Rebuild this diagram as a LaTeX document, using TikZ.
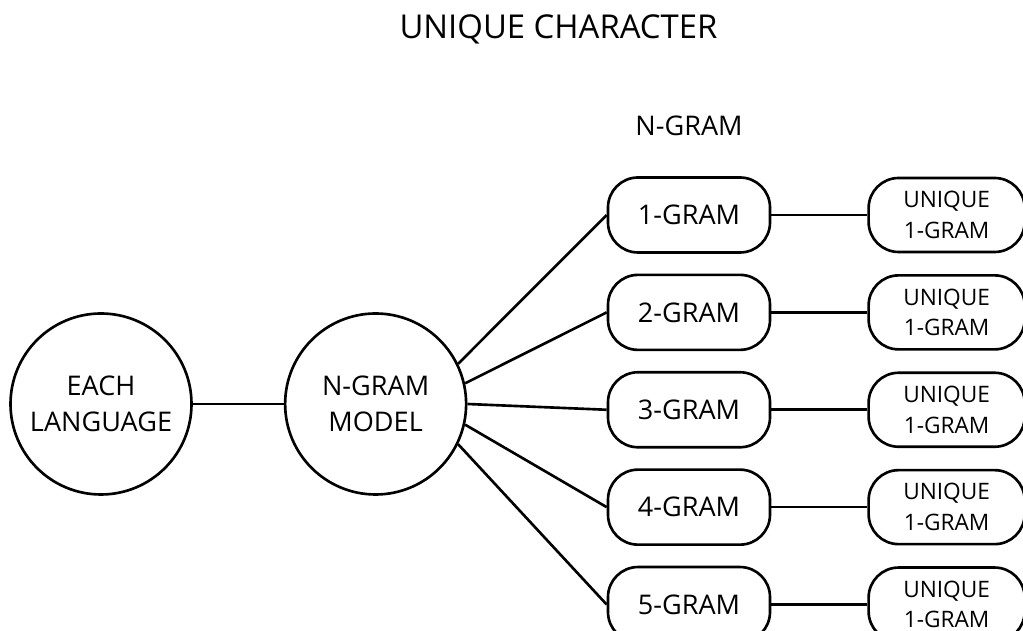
\documentclass[tikz,border=0pt]{standalone}
\usepackage{fontspec}
\setmainfont{Open Sans}
\usetikzlibrary{positioning}

\begin{document}
\begin{tikzpicture}[line width=1.5pt,
  bubble/.style={draw,circle,minimum size=3.62cm,inner sep=0pt,align=center,font=\fontsize{15.4}{20.5}\selectfont},
  gram/.style={draw,rounded corners=0.6cm,minimum width=3.24cm,minimum height=1.5cm,font=\fontsize{15.4}{18}\selectfont},
  uniq/.style={draw,rounded corners=0.6cm,minimum width=3.12cm,minimum height=1.48cm,align=center,font=\fontsize{12.9}{17.4}\selectfont}]
\useasboundingbox (0,0) rectangle (20.46,12.62);

\node (title) at (11.17,12.04) {\fontsize{18.7}{21}\selectfont UNIQUE CHARACTER};

\node[bubble] (lang) at (2.02,4.54) {EACH\\LANGUAGE};
\node[bubble,right=1.82cm of lang] (model) {N-GRAM\\MODEL};
\draw (lang) -- (model);

\node[gram] (g1) at (13.78,8.32) {1-GRAM};
\node[gram,below=0.395cm of g1] (g2) {2-GRAM};
\node[gram,below=0.395cm of g2] (g3) {3-GRAM};
\node[gram,below=0.395cm of g3] (g4) {4-GRAM};
\node[gram,below=0.395cm of g4] (g5) {5-GRAM};

\node[above=0.79cm of g1,inner sep=0pt,font=\fontsize{15.4}{18}\selectfont] (head) {N-GRAM};

\foreach \i/\a in {1/26,2/13,3/0,4/-13,5/-26}{
  \node[uniq,right=1.92cm of g\i] (u\i) {UNIQUE\\1-GRAM};
  \draw (model.\a) -- (g\i.west);
  \draw (g\i) -- (u\i);
}
\end{tikzpicture}
\end{document}
